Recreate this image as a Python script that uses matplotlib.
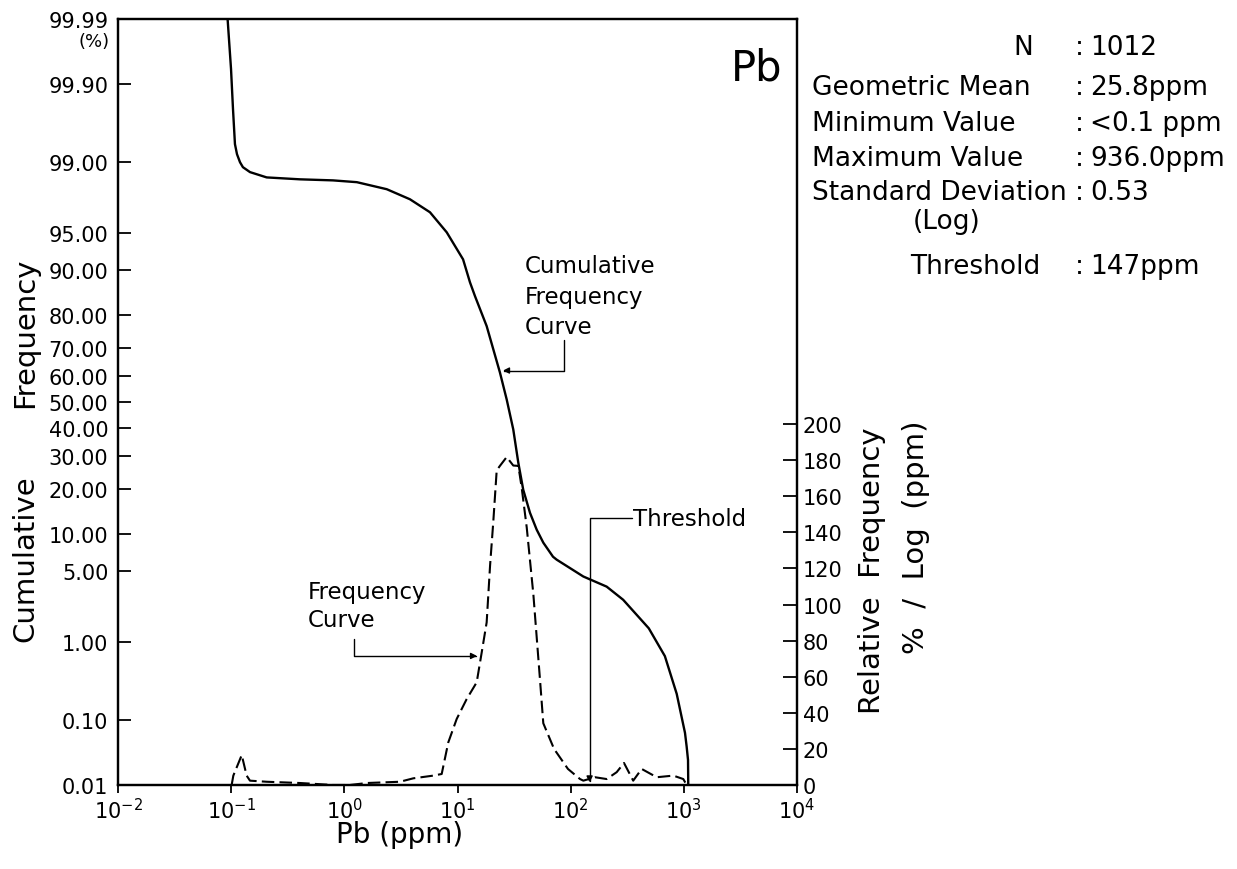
import numpy as np
import matplotlib
matplotlib.use("Agg")
import matplotlib.pyplot as plt
from matplotlib.ticker import FixedLocator, FixedFormatter, NullLocator
from statistics import NormalDist

# ---- data -------------------------------------------------------------
# cumulative frequency (% of samples above value) vs Pb content
cum_ppm = [0.093, 0.0997, 0.1038, 0.108, 0.1126, 0.1197, 0.127, 0.1467, 0.206,
           0.405, 0.794, 1.29, 2.37, 3.80, 5.71, 8.03, 11.2, 12.89, 14.3, 18.1,
           23.7, 27.2, 31.1, 34.45, 38.1, 43.7, 50.1, 57.3, 69.8, 75.2, 129.3,
           208, 291, 490, 680, 865, 1024, 1059, 1089, 1094]
cum_pct = [99.99, 99.939, 99.777, 99.386, 99.194, 99.005, 98.87, 98.72, 98.54,
           98.47, 98.43, 98.36, 98.06, 97.55, 96.73, 95.03, 91.70, 87.74, 84.75,
           76.95, 61.3, 51.0, 39.5, 27.8, 19.7, 14.1, 10.75, 8.60, 6.65, 6.29,
           4.51, 3.65, 2.74, 1.40, 0.68, 0.23, 0.0657, 0.041, 0.0254, 0.01]

# relative frequency (% / log ppm)
freq_ppm = [0.101, 0.1045, 0.124, 0.137, 0.1466, 0.206, 0.406, 0.798, 1.12,
            1.58, 3.10, 4.07, 6.11, 7.25, 8.29, 9.84, 12.05, 14.78, 16.37, 18.1,
            19.4, 20.7, 22.2, 23.7, 27.2, 31.1, 34.5, 36.9, 40.9, 46.8, 53.6,
            57.3, 71.3, 94.6, 121, 129.4, 164, 208, 255, 296, 357, 424, 576,
            807, 989, 1059]
freq_val = [0, 5.2, 16.6, 5.2, 2.4, 1.8, 1.1, 0, 0, 1.1, 1.8, 3.7, 5.2, 6.1,
            23.6, 36.6, 47.6, 56.9, 73.5, 90.1, 121.6, 145.6, 174.3, 176.8,
            181.7, 177, 176.8, 164.8, 142.7, 105.7, 58.2, 34.2, 20, 8.9, 3.3,
            2.4, 4.3, 3.3, 7.1, 12.2, 2.4, 8.9, 4.3, 5.2, 3.3, 0]

prob_ticks = [0.01, 0.10, 1.00, 5.00, 10.00, 20.00, 30.00, 40.00, 50.00, 60.00,
              70.00, 80.00, 90.00, 95.00, 99.00, 99.90, 99.99]
freq_ticks = [0, 20, 40, 60, 80, 100, 120, 140, 160, 180, 200]
x_ticks = [1e-2, 1e-1, 1e0, 1e1, 1e2, 1e3, 1e4]
x_labels = [r"$10^{-2}$", r"$10^{-1}$", r"$10^{0}$", r"$10^{1}$",
            r"$10^{2}$", r"$10^{3}$", r"$10^{4}$"]

stat_names = ["N", "Geometric Mean", "Minimum Value", "Maximum Value",
              "Standard Deviation"]
stat_values = ["1012", "25.8ppm", "<0.1 ppm", "936.0ppm", "0.53"]
threshold_ppm = 147

# ---- probability (normal) scale ----------------------------------------
_nd = NormalDist()
_ppf = np.vectorize(lambda v: _nd.inv_cdf(min(max(v, 1e-7), 100 - 1e-7) / 100.0),
                    otypes=[float])
_cdf = np.vectorize(lambda v: _nd.cdf(v) * 100.0, otypes=[float])


def prob_fwd(p):
    return _ppf(np.asarray(p, float))


def prob_inv(z):
    return _cdf(np.asarray(z, float))


plt.rcParams["font.family"] = ["DejaVu Sans"]

W, H = 1237, 870
fig = plt.figure(figsize=(W / 100, H / 100), dpi=100)
L, R, T, B = 118, 797, 20, 786
ax = fig.add_axes([L / W, 1 - B / H, (R - L) / W, (B - T) / H])

ax.set_xscale("log")
ax.set_xlim(1e-2, 1e4)
ax.set_yscale("function", functions=(prob_fwd, prob_inv))
ax.set_ylim(0.01, 99.99)

ax.plot(cum_ppm, cum_pct, color="black", lw=1.7, solid_joinstyle="round")

ax.yaxis.set_major_locator(FixedLocator(prob_ticks))
ax.yaxis.set_major_formatter(FixedFormatter([f"{v:.2f}" for v in prob_ticks]))
ax.yaxis.set_minor_locator(NullLocator())
ax.xaxis.set_major_locator(FixedLocator(x_ticks))
ax.xaxis.set_major_formatter(FixedFormatter(x_labels))
ax.xaxis.set_minor_locator(NullLocator())
ax.tick_params(axis="y", direction="in", length=9, width=1.3, labelsize=15, pad=7)
ax.tick_params(axis="x", direction="out", length=6, width=1.3, labelsize=15, pad=3)
for s in ax.spines.values():
    s.set_linewidth(1.6)

ax.annotate("(%)", xy=(0, 99.99), xycoords=("axes fraction", "data"),
            xytext=(-6, -16), textcoords="offset points", ha="right",
            va="center", fontsize=13)

# relative frequency axis
ax2 = ax.twinx()
ax2.set_ylim(0, 424.4)
ax2.plot(freq_ppm, freq_val, color="black", lw=1.5, linestyle=(0, (6, 2.5)))
ax2.yaxis.set_major_locator(FixedLocator(freq_ticks))
ax2.tick_params(axis="y", direction="in", length=10, width=1.3, labelsize=15, pad=4)
for s in ax2.spines.values():
    s.set_linewidth(1.6)

# ---- annotations ---------------------------------------------------------
arrow = dict(arrowstyle="-|>", color="black", lw=1.0, mutation_scale=9,
             shrinkA=0, shrinkB=0)

ax.text(39.5, 92.4, "Cumulative\nFrequency\nCurve", fontsize=16.5, ha="left",
        va="top", linespacing=1.4)
ax.annotate("", xy=(25.2, 62.0), xytext=(87.3, 72.8),
            arrowprops=dict(arrow, connectionstyle="angle,angleA=90,angleB=0,rad=0"))

ax.text(356, 13.0, "Threshold", fontsize=16.5, ha="left", va="center")
ax.annotate("", xy=(threshold_ppm, 0.011), xytext=(350, 13.0),
            arrowprops=dict(arrow, connectionstyle="angle,angleA=0,angleB=90,rad=0"))

ax2.text(0.477, 113.6, "Frequency\nCurve", fontsize=16.5, ha="left", va="top",
         linespacing=1.3)
ax2.annotate("", xy=(14.9, 71.5), xytext=(1.22, 80.9),
             arrowprops=dict(arrow, connectionstyle="angle,angleA=90,angleB=0,rad=0"))

ax.text(0.978, 0.937, "Pb", transform=ax.transAxes, fontsize=30, ha="right",
        va="center")

# ---- axis titles -------------------------------------------------------
def ftext(px, py, s, **kw):
    fig.text(px / W, 1 - py / H, s, **kw)


ftext(25, 559, "Cumulative", rotation=90, fontsize=21, ha="center", va="center")
ftext(25, 333, "Frequency", rotation=90, fontsize=21, ha="center", va="center")
ftext(872, 571, "Relative  Frequency", rotation=90, fontsize=21, ha="center",
      va="center")
ftext(916, 537, "%  /  Log  (ppm)", rotation=90, fontsize=21, ha="center",
      va="center")
ftext(400, 835, "Pb (ppm)", fontsize=20, ha="center", va="center")

# ---- summary statistics ------------------------------------------------
fs = 19
rows_y = [48, 88, 124, 159, 193]
colon_x = 1079
for name, val, y in zip(stat_names, stat_values, rows_y):
    if name == "N":
        ftext(1033, y, name, fontsize=fs, ha="right", va="center")
    else:
        ftext(812, y, name, fontsize=fs, ha="left", va="center")
    ftext(colon_x, y, ":", fontsize=fs, ha="center", va="center")
    ftext(1090, y, val, fontsize=fs, ha="left", va="center")
ftext(947, 222, "(Log)", fontsize=fs, ha="center", va="center")
ftext(1040, 267, "Threshold", fontsize=fs, ha="right", va="center")
ftext(colon_x, 267, ":", fontsize=fs, ha="center", va="center")
ftext(1090, 267, f"{threshold_ppm}ppm", fontsize=fs, ha="left", va="center")

fig.savefig("out.png", dpi=100)
